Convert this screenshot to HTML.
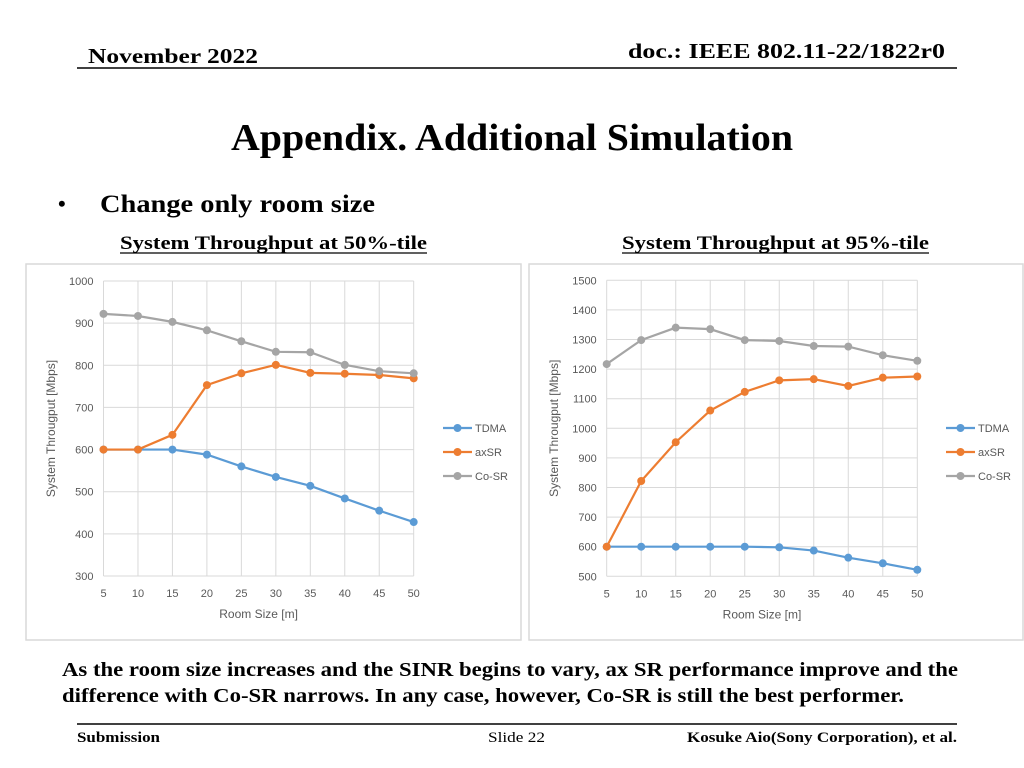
<!DOCTYPE html>
<html><head><meta charset="utf-8"><style>
html,body{margin:0;padding:0;background:#fff;}
svg{display:block;}
.s{font-family:"Liberation Serif",serif;font-weight:bold;fill:#000;}
.c{font-family:"Liberation Sans",sans-serif;fill:#595959;}
</style></head><body>
<svg id="page" width="1024" height="768" viewBox="0 0 1024 768">
<text class="s" x="88" y="63" font-size="21" textLength="170" lengthAdjust="spacingAndGlyphs">November 2022</text>
<text class="s" x="628" y="58" font-size="21" textLength="317" lengthAdjust="spacingAndGlyphs">doc.: IEEE 802.11-22/1822r0</text>
<line x1="77" y1="68" x2="957" y2="68" stroke="#000" stroke-width="1.5"/>
<text class="s" x="231" y="150" font-size="38" textLength="562" lengthAdjust="spacingAndGlyphs">Appendix. Additional Simulation</text>
<text class="s" x="58" y="211" font-size="22">•</text>
<text class="s" x="100" y="212" font-size="25" textLength="275" lengthAdjust="spacingAndGlyphs">Change only room size</text>
<text class="s" x="120" y="249" font-size="19" textLength="307" lengthAdjust="spacingAndGlyphs">System Throughput at 50%-tile</text>
<line x1="120" y1="253" x2="427" y2="253" stroke="#000" stroke-width="1.2"/>
<text class="s" x="622" y="249" font-size="19" textLength="307" lengthAdjust="spacingAndGlyphs">System Throughput at 95%-tile</text>
<line x1="622" y1="253" x2="929" y2="253" stroke="#000" stroke-width="1.2"/>
<g id="chartL"></g>
<g id="chartR"></g>
<text class="s" x="62" y="676" font-size="20" textLength="896" lengthAdjust="spacingAndGlyphs">As the room size increases and the SINR begins to vary, ax SR performance improve and the</text>
<text class="s" x="62" y="702" font-size="20" textLength="842" lengthAdjust="spacingAndGlyphs">difference with Co-SR narrows. In any case, however, Co-SR is still the best performer.</text>
<line x1="77" y1="724" x2="957" y2="724" stroke="#000" stroke-width="1.5"/>
<text class="s" x="77" y="742" font-size="15" textLength="83" lengthAdjust="spacingAndGlyphs">Submission</text>
<text x="488" y="742" font-size="15" font-family="Liberation Serif,serif" textLength="57" lengthAdjust="spacingAndGlyphs">Slide 22</text>
<text class="s" x="687" y="742" font-size="15" textLength="270" lengthAdjust="spacingAndGlyphs">Kosuke Aio(Sony Corporation), et al.</text>
</svg>
<script>
const categories = [5,10,15,20,25,30,35,40,45,50];
const seriesNames = ["TDMA","axSR","Co-SR"];
const seriesColors = ["#5b9bd5","#ed7d31","#a5a5a5"];
const leftTicks = [300,400,500,600,700,800,900,1000];
const leftTDMA = [600,600,600,588,560,535,514,484,455,428];
const leftAxSR = [600,600,635,753,781,801,782,780,777,769];
const leftCoSR = [922,917,903,883,857,832,831,801,786,781];
const rightTicks = [500,600,700,800,900,1000,1100,1200,1300,1400,1500];
const rightTDMA = [600,600,600,600,600,598,587,563,544,522];
const rightAxSR = [600,822,953,1060,1123,1162,1166,1143,1171,1175];
const rightCoSR = [1217,1298,1340,1335,1298,1295,1278,1276,1247,1228];

const NS="http://www.w3.org/2000/svg";
function mk(tag,attrs,parent){const e=document.createElementNS(NS,tag);for(const k in attrs)e.setAttribute(k,attrs[k]);parent.appendChild(e);return e;}

function drawChart(g, box, plot, ticks, series, legendX){
  const [x0,x1,yTop,yBot]=plot;
  const vmin=ticks[0], vmax=ticks[ticks.length-1];
  const xs=i=>x0+(x1-x0)*i/(categories.length-1);
  const ys=v=>yBot-(yBot-yTop)*(v-vmin)/(vmax-vmin);
  const bg=mk('rect',{x:box[0],y:box[1],width:box[2],height:box[3],fill:'#fff',stroke:'#d9d9d9','stroke-width':1.5},g);
  
  
  ticks.forEach(t=>{
    const y=ys(t);
    const l=mk('line',{x1:x0,x2:x1,y1:y,y2:y,stroke:'#d9d9d9','stroke-width':1},g);
    
    
    const tx=mk('text',{x:x0-10,y:y+4,'text-anchor':'end','font-size':11,class:'c'},g);
    tx.textContent=t;
    
    
  });
  categories.forEach((c,i)=>{
    const x=xs(i);
    const l=mk('line',{x1:x,x2:x,y1:yTop,y2:yBot,stroke:'#d9d9d9','stroke-width':1},g);
    
    
    const tx=mk('text',{x:x,y:yBot+21,'text-anchor':'middle','font-size':11,class:'c'},g);
    tx.textContent=c;
    
    
  });
  const xt=mk('text',{x:(x0+x1)/2,y:yBot+42,'text-anchor':'middle','font-size':12,class:'c'},g);
  xt.textContent='Room Size [m]';
  
  
  const ym=(yTop+yBot)/2, yx=box[0]+29;
  const yt=mk('text',{x:yx,y:ym,'text-anchor':'middle','font-size':12,class:'c',transform:`rotate(-90 ${yx} ${ym})`},g);
  yt.textContent='System Througput [Mbps]';
  
  
  series.forEach((vals,si)=>{
    const col=seriesColors[si];
    const pl=mk('polyline',{points:vals.map((v,i)=>xs(i)+','+ys(v)).join(' '),fill:'none',stroke:col,'stroke-width':2.2},g);
    
    
    vals.forEach((v,i)=>{
      const c=mk('circle',{cx:xs(i),cy:ys(v),r:4,fill:col},g);
      
      
    });
    const ly=428+24*si;
    const ll=mk('line',{x1:legendX,x2:legendX+29,y1:ly,y2:ly,stroke:col,'stroke-width':2.2},g);
    
    
    const lc=mk('circle',{cx:legendX+14.5,cy:ly,r:4,fill:col},g);
    
    
    const lt=mk('text',{x:legendX+32,y:ly+4,'font-size':11,class:'c'},g);
    lt.textContent=seriesNames[si];
    
    
  });
}
drawChart(document.getElementById('chartL'),[26,264,495,376],[103.5,413.7,281,576],leftTicks,[leftTDMA,leftAxSR,leftCoSR],443);
drawChart(document.getElementById('chartR'),[529,264,494,376],[606.7,917.3,280.3,576.3],rightTicks,[rightTDMA,rightAxSR,rightCoSR],946);
</script>
</body></html>
